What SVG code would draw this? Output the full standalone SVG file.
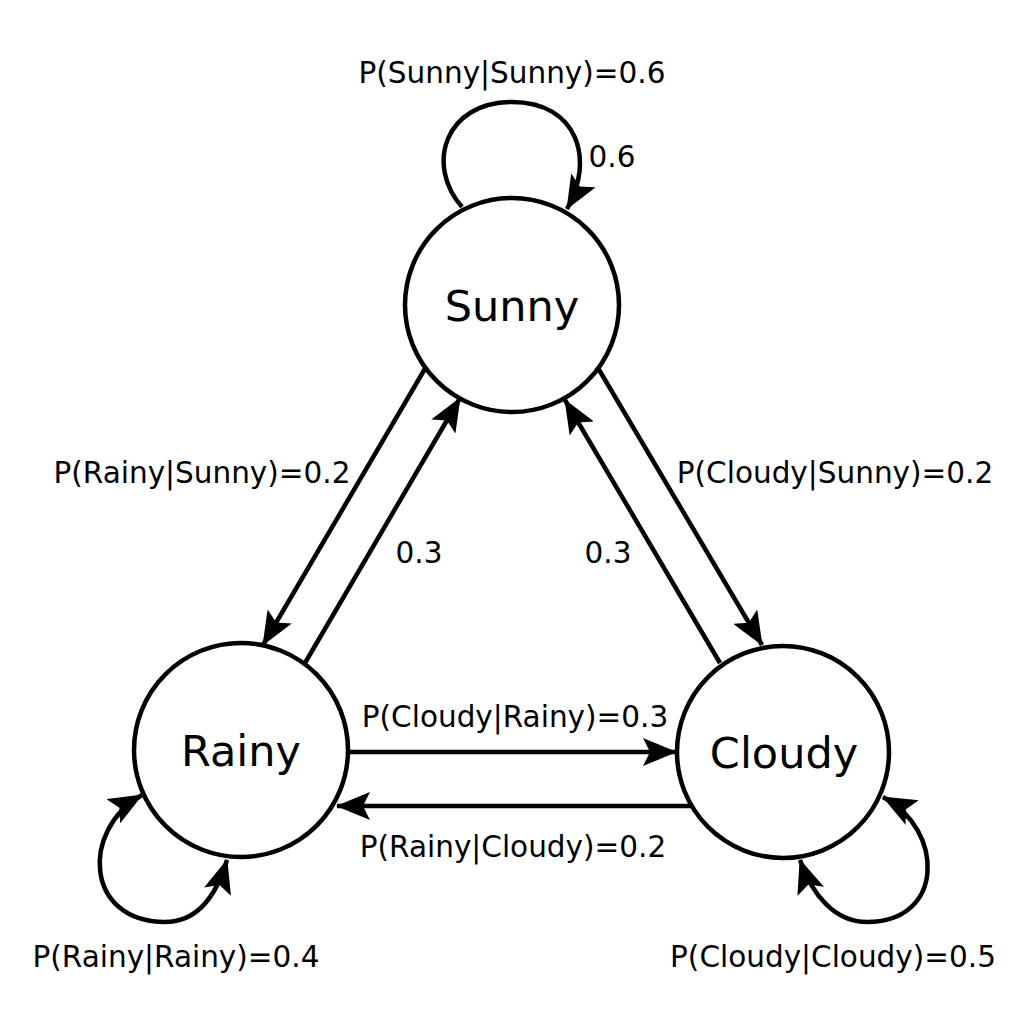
<svg xmlns="http://www.w3.org/2000/svg" width="1024" height="1024" viewBox="0 0 1024 1024">
<style>
.node{fill:#fff;stroke:#000;stroke-width:4.5}
.edge{fill:none;stroke:#000;stroke-width:4.5}
.lbl{font-family:"DejaVu Sans",sans-serif;font-size:29.5px;fill:#000;text-anchor:middle}
.name{font-family:"DejaVu Sans",sans-serif;font-size:43px;fill:#000;text-anchor:middle}
</style>
<defs>
<marker id="ah" viewBox="0 0 34 28" refX="33" refY="14" markerWidth="34" markerHeight="28" markerUnits="userSpaceOnUse" orient="auto-start-reverse">
<path d="M0 0 L34 14 L0 28 L7 14 Z" fill="#000"/>
</marker>
</defs>
<rect width="1024" height="1024" fill="#fff"/>
<g id="connectors">
<path class="edge" d="M462 207 C425 165 445 102 512 102 C578 102 595 160 567 209" marker-end="url(#ah)"/>
<line class="edge" x1="426" y1="367" x2="263" y2="645" marker-end="url(#ah)"/>
<line class="edge" x1="305" y1="663" x2="460" y2="398" marker-end="url(#ah)"/>
<line class="edge" x1="598" y1="368" x2="762" y2="645" marker-end="url(#ah)"/>
<line class="edge" x1="720" y1="663" x2="565" y2="400" marker-end="url(#ah)"/>
<line class="edge" x1="348" y1="752" x2="676" y2="752" marker-end="url(#ah)"/>
<line class="edge" x1="692" y1="806" x2="337" y2="806" marker-end="url(#ah)"/>
<path class="edge" d="M142 795 C80 830 85 922 165 922 C195 922 215 900 227 860" marker-start="url(#ah)" marker-end="url(#ah)"/>
<path class="edge" d="M883 797 C945 830 945 922 867 922 C835 922 812 895 800 860" marker-start="url(#ah)" marker-end="url(#ah)"/>
</g>
<g id="labels">
<text class="lbl" x="512" y="83">P(Sunny|Sunny)=0.6</text>
<text class="lbl" x="612" y="167">0.6</text>
<text class="lbl" x="202" y="483">P(Rainy|Sunny)=0.2</text>
<text class="lbl" x="835" y="483">P(Cloudy|Sunny)=0.2</text>
<text class="lbl" x="419" y="563">0.3</text>
<text class="lbl" x="608" y="563">0.3</text>
<text class="lbl" x="515" y="727">P(Cloudy|Rainy)=0.3</text>
<text class="lbl" x="513" y="857">P(Rainy|Cloudy)=0.2</text>
<text class="lbl" x="176" y="967">P(Rainy|Rainy)=0.4</text>
<text class="lbl" x="833" y="967">P(Cloudy|Cloudy)=0.5</text>
</g>
<g id="node-sunny">
<circle class="node" cx="512" cy="305" r="107"/>
<text class="name" x="512" y="321">Sunny</text>
</g>
<g id="node-rainy">
<circle class="node" cx="241" cy="750" r="107"/>
<text class="name" x="241" y="766">Rainy</text>
</g>
<g id="node-cloudy">
<circle class="node" cx="783" cy="752" r="106"/>
<text class="name" x="784" y="768">Cloudy</text>
</g>
</svg>
